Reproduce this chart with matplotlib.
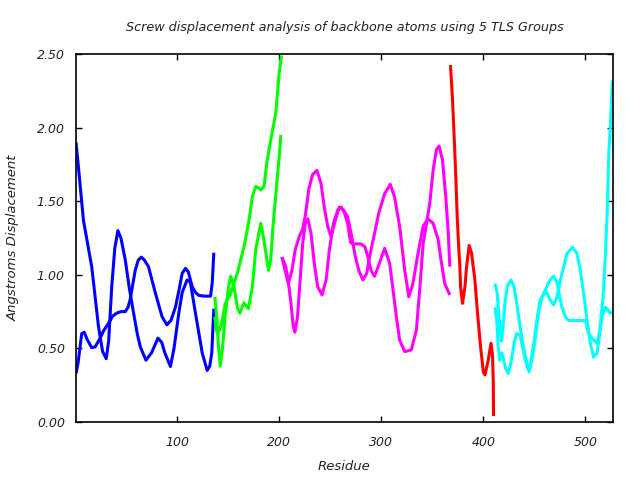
import matplotlib
matplotlib.use("Agg")
import matplotlib.pyplot as plt

# -----------------------------------------------------
# Data (residue, displacement)
# two traces per TLS group
# -----------------------------------------------------
blue_a_x = [1, 3, 8.3, 16.4, 23, 27, 30.6, 33, 36, 39, 42, 45, 49.3, 53, 57.4, 61, 64,
            69.5, 75, 81.3, 85, 88, 93.5, 97, 101.7, 105, 109.8, 113, 118, 124.6,
            129.5, 132, 134, 136]
blue_a_y = [1.90, 1.76, 1.37, 1.055, 0.65, 0.48, 0.43, 0.55, 0.92, 1.18, 1.30, 1.25,
            1.10, 0.92, 0.74, 0.60, 0.51, 0.42, 0.47, 0.57, 0.54, 0.47, 0.377, 0.50,
            0.74, 0.88, 0.965, 0.95, 0.74, 0.47, 0.35, 0.38, 0.47, 0.77]

blue_b_x = [1, 3, 6.6, 9, 12, 16.4, 19.7, 24.7, 28, 32.8, 37, 41, 45, 49.3, 52, 54, 57,
            59, 62, 65, 68, 72, 78.8, 85.3, 90, 94, 98.4, 102, 105, 108.3, 111, 114.8,
            118, 121.3, 127, 132.8, 134.5, 136]
blue_b_y = [0.33, 0.40, 0.60, 0.61, 0.56, 0.505, 0.51, 0.57, 0.62, 0.67, 0.72, 0.74,
            0.75, 0.75, 0.78, 0.83, 0.95, 1.03, 1.10, 1.12, 1.10, 1.055, 0.875, 0.715,
            0.66, 0.69, 0.78, 0.90, 1.01, 1.044, 1.02, 0.92, 0.88, 0.86, 0.855, 0.855,
            0.95, 1.15]

green_a_x = [137, 139, 140.5, 142.3, 144.5, 147, 150, 152.5, 155.8, 159, 161.4, 165.6,
             169.8, 173.8, 177, 182, 185, 189.5, 191.7, 194, 197.4, 200, 201.7]
green_a_y = [0.85, 0.70, 0.51, 0.38, 0.50, 0.715, 0.90, 0.99, 0.92, 0.78, 0.74, 0.81,
             0.77, 0.92, 1.17, 1.35, 1.24, 1.03, 1.10, 1.33, 1.60, 1.80, 1.95]

green_b_x = [137, 139, 141.5, 144.3, 147, 150, 152.5, 155, 159, 165.6, 170.5, 173.7,
             177, 180, 182, 185.2, 187.9, 192.4, 196.7, 200, 202.3]
green_b_y = [0.715, 0.61, 0.62, 0.69, 0.80, 0.84, 0.87, 0.93, 1.01, 1.19, 1.37, 1.53,
             1.60, 1.59, 1.576, 1.60, 1.76, 1.94, 2.10, 2.37, 2.49]

magenta_a_x = [202.7, 206.5, 209.2, 211.5, 213.8, 215.4, 218, 220.3, 223, 225.6, 228.2,
               231.2, 234.4, 237.7, 242, 246, 249.2, 253.2, 257.4, 260.8, 264, 267,
               270, 272, 280, 284, 287, 290, 293.4, 298.3, 303.3, 308.2, 311.5, 314.8,
               318, 323, 329.5, 334.4, 337.7, 341, 344.4, 347.5, 350.8, 354, 356.6,
               360, 363.2, 365.5, 367.2]
magenta_a_y = [1.12, 1.055, 0.94, 0.81, 0.65, 0.61, 0.715, 0.94, 1.21, 1.35, 1.38, 1.28,
               1.08, 0.92, 0.863, 0.965, 1.17, 1.35, 1.44, 1.46, 1.42, 1.35, 1.22, 1.21,
               1.21, 1.19, 1.12, 1.03, 0.99, 1.08, 1.18, 1.08, 0.90, 0.715, 0.557, 0.478,
               0.49, 0.625, 0.90, 1.21, 1.35, 1.485, 1.71, 1.85, 1.875, 1.78, 1.53, 1.30,
               1.055]

magenta_b_x = [202.7, 206.5, 209, 212.5, 215.7, 219.7, 223, 225.6, 229, 232.7, 237, 241,
               244.2, 247.5, 250.8, 255, 259, 263, 267, 270.5, 274.7, 278, 282, 285.8,
               288.5, 293.4, 297.6, 303.3, 308.8, 313, 318, 323, 327, 331, 336, 341,
               345.8, 350.8, 355.7, 359, 362.2, 367.2]
magenta_b_y = [1.12, 1.01, 0.94, 1.03, 1.17, 1.26, 1.31, 1.40, 1.58, 1.68, 1.71, 1.62,
               1.46, 1.33, 1.26, 1.37, 1.46, 1.44, 1.395, 1.28, 1.12, 1.03, 0.965, 1.01,
               1.12, 1.28, 1.42, 1.55, 1.615, 1.53, 1.33, 1.03, 0.85, 0.94, 1.146, 1.33,
               1.38, 1.35, 1.24, 1.08, 0.94, 0.863]

red_x = [367.8, 369.8, 371.4, 373, 374.4, 375.7, 377, 377.7, 379.6, 382, 383.6, 386.1,
         388.5, 391.7, 394.3, 397.3, 400, 401.6, 404.8, 407.5, 409, 409.7, 410]
red_y = [2.425, 2.19, 1.94, 1.67, 1.395, 1.21, 1.055, 0.92, 0.806, 0.92, 1.055, 1.20,
         1.146, 0.965, 0.74, 0.51, 0.34, 0.32, 0.42, 0.535, 0.45, 0.285, 0.04]

cyan_a_x = [411.4, 413.5, 415.5, 417.5, 419, 421, 423.5, 427, 430, 432.7, 436, 439.3,
            442.6, 444.8, 447.5, 450.7, 454, 457.4, 461.6, 465.5, 468.8, 472.2, 475.5,
            478.8, 482, 487.4, 491.7, 495, 498.2, 501.6, 504.8, 508, 511.4, 514, 516.3,
            519.6, 522.2, 524, 527]
cyan_a_y = [0.94, 0.88, 0.70, 0.55, 0.62, 0.80, 0.92, 0.965, 0.92, 0.806, 0.647, 0.51,
            0.40, 0.34, 0.42, 0.557, 0.74, 0.85, 0.885, 0.83, 0.795, 0.85, 0.965, 1.055,
            1.146, 1.187, 1.146, 1.03, 0.875, 0.69, 0.535, 0.44, 0.467, 0.60, 0.715,
            0.78, 0.76, 0.74, 0.745]

cyan_b_x = [411.4, 413, 414.7, 416, 418, 420, 422, 424.5, 427.5, 430.5, 432.7, 436,
            439.3, 443, 445, 449, 452.4, 455.6, 459, 462.2, 465.5, 468.8, 472.2, 474.8,
            477, 480.3, 483.5, 491.7, 500, 503, 508, 511.4, 514, 517.3, 519.6, 521.3,
            523, 524.4, 526.3, 527]
cyan_b_y = [0.78, 0.70, 0.50, 0.42, 0.47, 0.42, 0.36, 0.33, 0.42, 0.55, 0.60, 0.59,
            0.48, 0.37, 0.353, 0.51, 0.69, 0.83, 0.87, 0.92, 0.965, 0.99, 0.95, 0.85,
            0.78, 0.715, 0.69, 0.69, 0.69, 0.60, 0.557, 0.535, 0.62, 0.85, 1.146, 1.42,
            1.85, 2.0, 2.30, 2.32]

series = [
    (blue_a_x, blue_a_y, "#0000ff"),
    (blue_b_x, blue_b_y, "#0000ff"),
    (green_a_x, green_a_y, "#00ff00"),
    (green_b_x, green_b_y, "#00ff00"),
    (magenta_a_x, magenta_a_y, "#ff00ff"),
    (magenta_b_x, magenta_b_y, "#ff00ff"),
    (red_x, red_y, "#ff0000"),
    (cyan_a_x, cyan_a_y, "#00ffff"),
    (cyan_b_x, cyan_b_y, "#00ffff"),
]

x_ticks = [100, 200, 300, 400, 500]
y_ticks = [0.0, 0.5, 1.0, 1.5, 2.0, 2.5]

# -----------------------------------------------------
# Figure
# -----------------------------------------------------
fig = plt.figure(figsize=(6.4, 4.8), dpi=100)
ax = fig.add_axes([76 / 640, 1 - 422 / 480, (613 - 76) / 640, (422 - 54) / 480])

for xs, ys, c in series:
    ax.plot(xs, ys, color=c, lw=2.2, solid_joinstyle="round", solid_capstyle="butt")

ax.set_xlim(1, 527)
ax.set_ylim(0, 2.5)

ax.set_xticks(x_ticks)
ax.set_yticks(y_ticks)
ax.set_yticklabels([f"{v:.2f}" for v in y_ticks])

ax.tick_params(direction="in", length=4, width=1, top=True, right=True,
               labelsize=9, colors="black")
ax.tick_params(axis="y", pad=8)
ax.tick_params(axis="x", pad=10)
for lab in ax.get_xticklabels() + ax.get_yticklabels():
    lab.set_fontstyle("italic")
    lab.set_color("#222222")

for s in ax.spines.values():
    s.set_linewidth(1.2)

# Title and axis labels
fig.text(344.5 / 640, 1 - 28 / 480,
         "Screw displacement analysis of backbone atoms using 5 TLS Groups",
         ha="center", va="center", fontsize=9.2, style="italic", color="#222222")
fig.text(344.5 / 640, 1 - 466 / 480, "Residue",
         ha="center", va="center", fontsize=9.5, style="italic", color="#222222")
fig.text(13 / 640, 1 - 238 / 480, "Angstroms Displacement",
         ha="center", va="center", rotation=90, fontsize=9.5, style="italic",
         color="#222222")

plt.savefig("out.png", dpi=100)
